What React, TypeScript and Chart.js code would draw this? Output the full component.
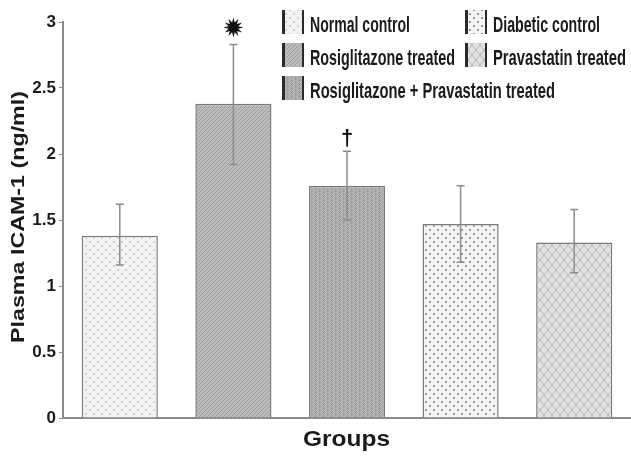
import React, { useEffect, useRef } from "react";
import { Chart, registerables } from "chart.js";

Chart.register(...registerables);

const categories = [
  "Normal control",
  "Rosiglitazone treated",
  "Rosiglitazone + Pravastatin treated",
  "Diabetic control",
  "Pravastatin treated",
];
const meanValues = [1.38, 2.38, 1.76, 1.47, 1.33];
const errorHigh = [1.62, 2.83, 2.02, 1.76, 1.58];
const errorLow = [1.16, 1.92, 1.5, 1.18, 1.1];
const yTicks = [0, 0.5, 1, 1.5, 2, 2.5, 3];
const legendOrder = [
  "Normal control",
  "Diabetic control",
  "Rosiglitazone treated",
  "Pravastatin treated",
  "Rosiglitazone + Pravastatin treated",
];
const markers = ["", "✸", "†", "", ""];
const yTitle = "Plasma ICAM-1 (ng/ml)";
const xTitle = "Groups";

function makePattern(kind: string): CanvasPattern | string {
  const c = document.createElement("canvas");
  const ctx = c.getContext("2d")!;
  if (kind === "Normal control") {
    c.width = 8; c.height = 8;
    ctx.fillStyle = "#f3f3f3"; ctx.fillRect(0, 0, 8, 8);
    ctx.fillStyle = "#d0d0d0";
    ctx.fillRect(1, 1, 2, 2); ctx.fillRect(5, 5, 2, 2);
  } else if (kind === "Rosiglitazone treated") {
    c.width = 4; c.height = 4;
    ctx.fillStyle = "#bdbdbd"; ctx.fillRect(0, 0, 4, 4);
    ctx.fillStyle = "#9c9c9c";
    for (let i = 0; i < 4; i++) ctx.fillRect((3 - i + 4) % 4, i, 1, 1);
  } else if (kind === "Rosiglitazone + Pravastatin treated") {
    c.width = 8; c.height = 8;
    ctx.fillStyle = "#a2a2a2"; ctx.fillRect(0, 0, 8, 8);
    ctx.fillStyle = "#c6c6c6";
    const pts = [[0, 0], [1, 1], [2, 2], [1, 3], [0, 4], [1, 5], [2, 6], [1, 7], [4, 2], [5, 3], [6, 4], [5, 5], [4, 6], [5, 7], [6, 0], [5, 1]];
    pts.forEach(([x, y]) => ctx.fillRect(x, y, 1, 1));
  } else if (kind === "Diabetic control") {
    c.width = 8; c.height = 8;
    ctx.fillStyle = "#f4f4f4"; ctx.fillRect(0, 0, 8, 8);
    ctx.fillStyle = "#9a9a9a";
    ctx.fillRect(1, 1, 2, 2); ctx.fillRect(5, 5, 2, 2);
  } else {
    c.width = 8; c.height = 10;
    ctx.fillStyle = "#e2e2e2"; ctx.fillRect(0, 0, 8, 10);
    ctx.strokeStyle = "#b8b8b8"; ctx.lineWidth = 1;
    ctx.beginPath();
    ctx.moveTo(0, 5); ctx.lineTo(4, 0); ctx.lineTo(8, 5); ctx.lineTo(4, 10); ctx.closePath();
    ctx.stroke();
  }
  const p = ctx.createPattern(c, "repeat");
  return p || "#ccc";
}

function fitText(ctx: CanvasRenderingContext2D, text: string, x: number, y: number, width: number) {
  const w = ctx.measureText(text).width;
  ctx.save();
  ctx.translate(x, y);
  ctx.scale(width / w, 1);
  ctx.fillText(text, 0, 0);
  ctx.restore();
}

export default function App() {
  const ref = useRef<HTMLCanvasElement>(null);
  useEffect(() => {
    document.body.style.margin = "0";
    const patterns: Record<string, CanvasPattern | string> = {};
    [...legendOrder].forEach((k) => (patterns[k] = makePattern(k)));

    const overlay = {
      id: "overlay",
      afterDatasetsDraw(chart: any) {
        const ctx: CanvasRenderingContext2D = chart.ctx;
        const meta = chart.getDatasetMeta(0);
        const ys = chart.scales.y;
        ctx.save();
        meta.data.forEach((bar: any, i: number) => {
          const x = bar.x;
          const yh = ys.getPixelForValue(errorHigh[i]);
          const yl = ys.getPixelForValue(errorLow[i]);
          ctx.strokeStyle = "#8c8c8c";
          ctx.lineWidth = 1.5;
          ctx.beginPath();
          ctx.moveTo(x, yh); ctx.lineTo(x, yl);
          ctx.moveTo(x - 4, yh); ctx.lineTo(x + 4, yh);
          ctx.moveTo(x - 4, yl); ctx.lineTo(x + 4, yl);
          ctx.stroke();
          const m = markers[i];
          if (m === "✸") {
            const cx = x, cy = yh - 17, r1 = 10, r2 = 5, n = 12;
            ctx.fillStyle = "#111";
            ctx.beginPath();
            for (let k = 0; k < n * 2; k++) {
              const r = k % 2 === 0 ? r1 : r2;
              const a = (Math.PI * k) / n - Math.PI / 2;
              const px = cx + r * Math.cos(a), py = cy + r * Math.sin(a);
              if (k === 0) ctx.moveTo(px, py); else ctx.lineTo(px, py);
            }
            ctx.closePath();
            ctx.fill();
          } else if (m) {
            ctx.fillStyle = "#111";
            ctx.font = "bold 22px 'Liberation Sans', sans-serif";
            ctx.textAlign = "center";
            ctx.textBaseline = "alphabetic";
            ctx.fillText(m, x, yh - 6);
          }
        });
        ctx.restore();
      },
      afterDraw(chart: any) {
        const ctx: CanvasRenderingContext2D = chart.ctx;
        ctx.save();
        const cols = [282, 465];
        const baselines = [32, 65, 98];
        const widths: Record<string, number> = {
          "Normal control": 100,
          "Diabetic control": 107,
          "Rosiglitazone treated": 145,
          "Pravastatin treated": 133,
          "Rosiglitazone + Pravastatin treated": 245,
        };
        ctx.font = "bold 22px 'Liberation Sans', sans-serif";
        ctx.textBaseline = "alphabetic";
        ctx.textAlign = "left";
        legendOrder.forEach((name, i) => {
          const col = i % 2;
          const row = Math.floor(i / 2);
          const bx = cols[col];
          const by = baselines[row] - 22;
          ctx.fillStyle = patterns[name] as any;
          ctx.fillRect(bx, by, 22, 24);
          ctx.fillStyle = "#2a2a2a";
          ctx.fillRect(bx, by, 3, 24);
          ctx.fillRect(bx + 20, by, 2, 24);
          ctx.fillStyle = "#1a1a1a";
          fitText(ctx, name, bx + 28, baselines[row], widths[name]);
        });
        ctx.font = "bold 18px 'Liberation Sans', sans-serif";
        ctx.fillStyle = "#1a1a1a";
        ctx.save();
        ctx.translate(24, 217);
        ctx.rotate(-Math.PI / 2);
        ctx.textAlign = "left";
        const tw = ctx.measureText(yTitle).width;
        const target = 252;
        ctx.scale(target / tw, 1);
        ctx.fillText(yTitle, -tw / 2, 0);
        ctx.restore();
        ctx.font = "bold 22px 'Liberation Sans', sans-serif";
        ctx.textAlign = "left";
        fitText(ctx, xTitle, 303, 446, 87);
        ctx.restore();
      },
    };

    const chart = new Chart(ref.current!, {
      type: "bar",
      data: {
        labels: categories,
        datasets: [
          {
            data: meanValues,
            backgroundColor: categories.map((c) => patterns[c]) as any,
            borderColor: "#7a7a7a",
            borderWidth: 1.5,
            barPercentage: 0.67,
            categoryPercentage: 1,
          },
        ],
      },
      options: {
        animation: false,
        responsive: false,
        events: [],
        layout: { padding: { top: 22, right: 0, left: 0, bottom: 0 } },
        plugins: { legend: { display: false }, tooltip: { enabled: false } },
        scales: {
          x: {
            grid: { display: false },
            ticks: { display: false },
            border: { display: true, color: "#8a8a8a", width: 2 },
            afterFit: (s: any) => { s.height = 38; },
          },
          y: {
            min: 0,
            max: 3,
            afterBuildTicks: (s: any) => { s.ticks = yTicks.map((v) => ({ value: v })); },
            ticks: {
              color: "#1a1a1a",
              padding: 3,
              font: { family: "'Liberation Sans Narrow', 'Liberation Sans', sans-serif", size: 17, weight: "bold" },
              callback: (v: any) => String(v),
            },
            grid: { display: true, drawOnChartArea: false, drawTicks: true, tickLength: 4, color: "#8a8a8a" },
            border: { display: true, color: "#8a8a8a", width: 2 },
            afterFit: (s: any) => { s.width = 63; },
          },
        },
      },
      plugins: [overlay],
    });
    return () => chart.destroy();
  }, []);
  return (
    <div style={{ position: "absolute", left: 0, top: 0, width: 631, height: 456, background: "#fff" }}>
      <canvas ref={ref} width={631} height={456} style={{ width: 631, height: 456 }} />
    </div>
  );
}
